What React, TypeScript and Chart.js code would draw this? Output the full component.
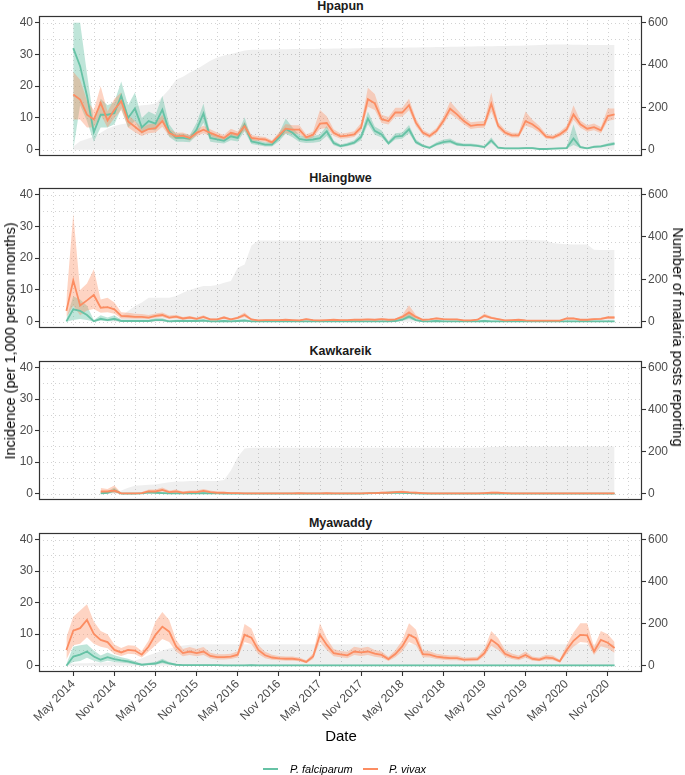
import React, { useEffect, useRef } from "react";
import { Chart, registerables } from "chart.js";

Chart.register(...registerables);

const FONT = "'Liberation Sans', Arial, Helvetica, sans-serif";
const _ = null;

// month index: 0 = Apr 2014 ... 80 = Dec 2020
const tickIdx = [1, 7, 13, 19, 25, 31, 37, 43, 49, 55, 61, 67, 73, 79];
const tickLabels = ["May 2014", "Nov 2014", "May 2015", "Nov 2015", "May 2016", "Nov 2016", "May 2017", "Nov 2017", "May 2018", "Nov 2018", "May 2019", "Nov 2019", "May 2020", "Nov 2020"];
const gridX = [-2, 1, 4, 7, 10, 13, 16, 19, 22, 25, 28, 31, 34, 37, 40, 43, 46, 49, 52, 55, 58, 61, 64, 67, 70, 73, 76, 79, 82];
const gridY = [0, 5, 10, 15, 20, 25, 30, 35, 40];
const yTicks = [0, 10, 20, 30, 40];
const y2Ticks = [0, 200, 400, 600];

// ---------- Hpapun ----------
const hpPosts = [_, 15, 40, 50, 62, 80, 100, 112, 120, 125,
  205, 210, 212, 218, 250, 285, 330, 345, 365, 380,
  400, 420, 435, 445, 452, 460, 468, 472, 472, 473,
  473, 474, 474, 475, 475, 476, 476, 477, 477, 478,
  478, 478, 479, 479, 480, 480, 481, 481, 482, 482,
  483, 483, 484, 484, 485, 485, 486, 486, 487, 487,
  488, 488, 489, 490, 490, 491, 491, 492, 493, 494,
  496, 497, 497, 497, 496, 496, 495, 495, 494, 494,
  494];
const hpPf = [_, 32, 26.3, 17, 5.5, 11, 11, 11.5, 17, 10,
  13, 7, 9, 8.2, 12.6, 5.8, 3.7, 3.7, 3.4, 6.3,
  11.4, 3.7, 3.2, 2.8, 4.2, 3.7, 7.9, 2.6, 2.1, 1.6,
  1.6, 3.7, 6.5, 5.3, 3.4, 3.0, 3.2, 3.6, 5.8, 2.1,
  1.1, 1.6, 2.2, 4.0, 9.8, 5.9, 4.8, 2.0, 4.1, 4.3,
  6.4, 2.4, 1.2, 0.6, 1.7, 2.4, 2.7, 1.7, 1.4, 1.4,
  1.2, 0.8, 2.9, 0.6, 0.4, 0.4, 0.4, 0.5, 0.5, 0.2,
  0.2, 0.3, 0.4, 0.5, 3.5, 0.8, 0.4, 0.9, 1.0, 1.5,
  1.9];
const hpPfLo = [_, 0, 14, 9, 2.5, 7, 7, 8, 13, 7,
  9, 5, 6.5, 6, 9, 4, 2.5, 2.5, 2.3, 4.5,
  8.5, 2.5, 2.2, 1.9, 3, 2.6, 5.8, 1.8, 1.4, 1.0,
  1.0, 2.6, 5, 3.9, 2.4, 2.1, 2.2, 2.5, 4.3, 1.4,
  0.7, 1.1, 1.6, 3.0, 8, 4.7, 3.8, 1.5, 3.2, 3.4,
  5.2, 1.8, 0.8, 0.3, 1.2, 1.8, 2.0, 1.2, 1.0, 1.0,
  0.8, 0.5, 2.1, 0.3, 0.2, 0.2, 0.2, 0.3, 0.3, 0.1,
  0.1, 0.1, 0.2, 0.3, 1.5, 0.5, 0.2, 0.6, 0.7, 1.1,
  1.4];
const hpPfHi = [_, 40, 40, 24, 9, 16, 14, 15, 21.5, 14,
  18, 10, 12, 11, 17, 8, 5, 5, 4.6, 8.5,
  14.5, 5, 4.4, 3.8, 5.6, 5, 10.2, 3.5, 2.9, 2.3,
  2.3, 5, 9.8, 7, 4.6, 4.0, 4.3, 4.8, 7.5, 2.9,
  1.6, 2.2, 3.0, 5.2, 12, 7.3, 6, 2.7, 5.2, 5.4,
  7.8, 3.2, 1.7, 1.0, 2.3, 3.2, 3.5, 2.3, 1.9, 1.9,
  1.7, 1.2, 3.9, 1.0, 0.7, 0.7, 0.7, 0.8, 0.8, 0.4,
  0.4, 0.5, 0.7, 0.8, 8, 1.2, 0.7, 1.3, 1.4, 2.0,
  2.5];
const hpPv = [_, 17.4, 15.8, 11, 9.5, 14.7, 9.2, 12.6, 15.3, 8.9,
  7.2, 5.5, 6.5, 6.8, 9.0, 5.3, 4.2, 4.4, 3.7, 5.3,
  6.3, 5.3, 4.4, 3.7, 5.3, 4.7, 7.4, 3.7, 3.4, 3.2,
  2.3, 4.4, 6.6, 6.3, 6.3, 3.9, 4.7, 8.2, 8.4, 5.3,
  4.2, 4.4, 4.8, 7.0, 15.9, 14.6, 9.6, 9.0, 11.7, 11.7,
  14.0, 8.5, 5.4, 4.3, 5.9, 9.0, 12.9, 11.1, 9.0, 7.5,
  7.8, 7.9, 14.5, 7.5, 5.4, 4.5, 4.5, 9.0, 8.0, 6.4,
  4.1, 3.8, 4.8, 6.4, 11.1, 8.0, 6.6, 7.1, 6.1, 10.6,
  11.1];
const hpPvLo = [_, 9.5, 9.5, 7, 7, 11, 7, 10, 12.5, 7,
  5.5, 4.3, 5.2, 5.4, 7.2, 4.2, 3.3, 3.5, 2.9, 4.3,
  5.2, 4.3, 3.5, 2.9, 4.3, 3.8, 6.1, 2.9, 2.7, 2.5,
  1.8, 3.5, 5.2, 5, 5, 3.1, 3.8, 6.5, 6.8, 4.3,
  3.4, 3.6, 4.0, 5.8, 13.5, 12.5, 8.4, 7.9, 10.4, 10.4,
  12.4, 7.4, 4.6, 3.6, 5.1, 7.9, 11.3, 9.7, 7.9, 6.5,
  6.8, 6.9, 12, 6.5, 4.6, 3.8, 3.8, 7.5, 6.8, 5.4,
  3.4, 3.2, 4.1, 5.4, 9.4, 6.9, 5.6, 6.1, 5.2, 9,
  9.5];
const hpPvHi = [_, 24.5, 22, 15.5, 12.5, 20, 12, 16, 18, 11,
  9, 6.9, 8, 8.3, 11, 6.5, 5.3, 5.4, 4.6, 6.4,
  7.5, 6.4, 5.4, 4.6, 6.6, 5.7, 8.8, 4.6, 4.2, 4.0,
  3.0, 5.4, 8.1, 7.7, 7.7, 4.8, 5.7, 12.5, 10.5, 6.4,
  5.1, 5.3, 5.8, 8.4, 19.5, 17.5, 11, 10.3, 13.2, 13.2,
  16, 9.8, 6.3, 5.1, 6.8, 10.3, 15.2, 12.7, 10.3, 8.6,
  8.9, 9.0, 18, 8.7, 6.3, 5.3, 5.3, 12, 9.4, 7.5,
  4.9, 4.5, 5.6, 7.5, 14, 9.2, 7.7, 8.2, 7.1, 13,
  13];

// ---------- Hlaingbwe ----------
const hlPosts = [0, 0, 0, 0, 0, 0, 0, 5, 27, 50,
  74, 90, 113, 113, 113, 113, 121, 137, 149, 160,
  168, 168, 173, 184, 192, 255, 270, 360, 383, 383,
  383, 383, 383, 383, 383, 383, 383, 383, 383, 383,
  383, 383, 383, 383, 383, 383, 383, 383, 383, 383,
  383, 383, 383, 383, 383, 383, 383, 383, 383, 383,
  383, 383, 383, 383, 384, 385, 386, 387, 386, 385,
  383, 372, 368, 366, 365, 365, 364, 340, 338, 338,
  338];
const hlPf = [0.1, 3.9, 3.4, 2.1, 0.1, 0.9, 0.5, 0.9, 0.2, 0.2,
  0.2, 0.2, 0.2, 0.5, 0.5, 0.1, 0.2, 0.2, 0.2, 0.2,
  0.3, 0.1, 0.1, 0.2, 0.1, 0.2, 0.3, 0.1, 0.1, 0.1,
  0.1, 0.1, 0.1, 0.1, 0.1, 0.1, 0.1, 0.1, 0.1, 0.1,
  0.1, 0.1, 0.1, 0.1, 0.1, 0.1, 0.1, 0.1, 0.2, 0.6,
  1.6, 0.5, 0.1, 0.1, 0.2, 0.1, 0.1, 0.1, 0.1, 0.1,
  0.1, 0.2, 0.1, 0.1, 0.1, 0.1, 0.1, 0.1, 0.1, 0.1,
  0.1, 0.1, 0.1, 0.1, 0.1, 0.1, 0.1, 0.1, 0.1, 0.1,
  0.1];
const hlPfLo = [0, 0.5, 0.8, 0.5, 0, 0.3, 0.1, 0.3, 0, 0,
  0, 0, 0, 0.2, 0.2, 0, 0, 0, 0, 0,
  0.1, 0, 0, 0, 0, 0, 0.1, 0, 0, 0,
  0, 0, 0, 0, 0, 0, 0, 0, 0, 0,
  0, 0, 0, 0, 0, 0, 0, 0, 0, 0.3,
  0.8, 0.2, 0, 0, 0, 0, 0, 0, 0, 0,
  0, 0, 0, 0, 0, 0, 0, 0, 0, 0,
  0, 0, 0, 0, 0, 0, 0, 0, 0, 0,
  0];
const hlPfHi = [1, 8, 7, 5, 0.5, 2, 1.3, 2, 0.6, 0.6,
  0.6, 0.6, 0.6, 1.1, 1.1, 0.4, 0.6, 0.6, 0.6, 0.6,
  0.8, 0.4, 0.4, 0.6, 0.4, 0.6, 0.8, 0.4, 0.3, 0.3,
  0.3, 0.3, 0.3, 0.3, 0.3, 0.3, 0.3, 0.3, 0.3, 0.3,
  0.3, 0.3, 0.3, 0.3, 0.3, 0.3, 0.3, 0.3, 0.6, 1.2,
  2.8, 1.1, 0.3, 0.3, 0.6, 0.3, 0.3, 0.3, 0.3, 0.3,
  0.3, 0.6, 0.3, 0.3, 0.3, 0.3, 0.3, 0.3, 0.3, 0.3,
  0.3, 0.3, 0.3, 0.3, 0.3, 0.3, 0.3, 0.3, 0.3, 0.3,
  0.3];
const hlPv = [3.4, 13, 5.1, 6.7, 8.4, 4.4, 4.6, 3.9, 1.8, 1.7,
  1.5, 1.5, 1.3, 1.8, 2.1, 1.3, 1.6, 1.0, 1.3, 0.9,
  1.5, 0.7, 0.7, 1.3, 0.7, 1.2, 2.1, 0.7, 0.4, 0.5,
  0.5, 0.5, 0.6, 0.5, 0.4, 0.8, 0.5, 0.4, 0.5, 0.6,
  0.5, 0.5, 0.6, 0.6, 0.7, 0.6, 0.8, 0.6, 0.7, 1.5,
  2.9, 1.5, 0.6, 0.7, 1.0, 0.8, 0.7, 0.7, 0.4, 0.4,
  0.6, 1.9, 1.2, 0.8, 0.4, 0.5, 0.6, 0.4, 0.3, 0.3,
  0.3, 0.3, 0.3, 1.0, 1.0, 0.6, 0.6, 0.8, 0.9, 1.3,
  1.3];
const hlPvLo = [1.5, 5, 2, 3.5, 4, 2.8, 3, 2.5, 1.0, 1.0,
  0.9, 0.9, 0.8, 1.2, 1.5, 0.8, 1.1, 0.6, 0.9, 0.6,
  1.0, 0.4, 0.4, 0.9, 0.4, 0.8, 1.5, 0.4, 0.2, 0.3,
  0.3, 0.3, 0.4, 0.3, 0.2, 0.5, 0.3, 0.2, 0.3, 0.4,
  0.3, 0.3, 0.4, 0.4, 0.5, 0.4, 0.5, 0.4, 0.5, 1.0,
  1.6, 1.0, 0.4, 0.5, 0.7, 0.5, 0.5, 0.5, 0.2, 0.2,
  0.4, 1.3, 0.8, 0.5, 0.2, 0.3, 0.4, 0.2, 0.2, 0.2,
  0.2, 0.2, 0.2, 0.7, 0.7, 0.4, 0.4, 0.5, 0.6, 0.9,
  0.9];
const hlPvHi = [7, 34, 10, 12, 16.5, 7, 7.5, 6, 3.0, 2.8,
  2.5, 2.4, 2.1, 2.6, 2.9, 1.9, 2.2, 1.5, 1.8, 1.3,
  2.0, 1.0, 1.0, 1.8, 1.0, 1.6, 2.9, 1.0, 0.6, 0.7,
  0.7, 0.7, 0.8, 0.7, 0.6, 1.1, 0.7, 0.6, 0.7, 0.8,
  0.7, 0.7, 0.8, 0.8, 0.9, 0.8, 1.1, 0.8, 0.9, 2.1,
  5.2, 2.1, 0.8, 0.9, 1.4, 1.1, 0.9, 0.9, 0.6, 0.6,
  0.8, 2.6, 1.6, 1.1, 0.6, 0.7, 0.8, 0.6, 0.4, 0.4,
  0.4, 0.4, 0.4, 1.3, 1.3, 0.8, 0.8, 1.1, 1.2, 1.7,
  1.7];

// ---------- Kawkareik ----------
const kkPosts = [_, _, _, _, _, 5, 6, 8, 15, 28,
  38, 40, 42, 44, 50, 55, 58, 58, 60, 60,
  60, 60, 61, 65, 110, 175, 215, 219, 219, 219,
  219, 219, 219, 219, 219, 219, 219, 219, 219, 219,
  219, 219, 219, 219, 219, 219, 219, 219, 219, 219,
  219, 219, 219, 219, 219, 219, 219, 219, 219, 219,
  219, 220, 222, 224, 225, 225, 225, 225, 225, 225,
  225, 225, 225, 225, 225, 225, 225, 225, 225, 225,
  225];
const kkPf = [_, _, _, _, _, 0.1, 0.3, 1.1, 0, 0,
  0, 0.1, 0.4, 0.3, 0.2, 0.1, 0.1, 0.1, 0.1, 0.1,
  0.2, 0.1, 0.1, 0.05, 0.05, 0.05, 0.05, 0.05, 0.05, 0.05,
  0.05, 0.05, 0.05, 0.05, 0.05, 0.05, 0.05, 0.05, 0.05, 0.05,
  0.05, 0.05, 0.05, 0.05, 0.1, 0.2, 0.2, 0.3, 0.3, 0.3,
  0.2, 0.1, 0.05, 0.05, 0.05, 0.05, 0.05, 0.05, 0.05, 0.05,
  0.05, 0.05, 0.05, 0.05, 0.05, 0.05, 0.05, 0.05, 0.05, 0.05,
  0.05, 0.05, 0.05, 0.05, 0.05, 0.05, 0.05, 0.05, 0.05, 0.05,
  0.05];
const kkPfLo = [_, _, _, _, _, 0, 0, 0.4, 0, 0,
  0, 0, 0.1, 0.1, 0, 0, 0, 0, 0, 0,
  0, 0, 0, 0, 0, 0, 0, 0, 0, 0,
  0, 0, 0, 0, 0, 0, 0, 0, 0, 0,
  0, 0, 0, 0, 0, 0.1, 0.1, 0.1, 0.1, 0.1,
  0.1, 0, 0, 0, 0, 0, 0, 0, 0, 0,
  0, 0, 0, 0, 0, 0, 0, 0, 0, 0,
  0, 0, 0, 0, 0, 0, 0, 0, 0, 0,
  0];
const kkPfHi = [_, _, _, _, _, 0.5, 0.8, 2.0, 0.2, 0.2,
  0.2, 0.2, 0.9, 0.7, 0.5, 0.3, 0.3, 0.3, 0.3, 0.3,
  0.5, 0.2, 0.2, 0.2, 0.2, 0.2, 0.2, 0.2, 0.2, 0.2,
  0.2, 0.2, 0.2, 0.2, 0.2, 0.2, 0.2, 0.2, 0.2, 0.2,
  0.2, 0.2, 0.2, 0.2, 0.3, 0.5, 0.5, 0.6, 0.6, 0.6,
  0.5, 0.3, 0.2, 0.2, 0.2, 0.2, 0.2, 0.2, 0.2, 0.2,
  0.2, 0.2, 0.2, 0.2, 0.2, 0.2, 0.2, 0.2, 0.2, 0.2,
  0.2, 0.2, 0.2, 0.2, 0.2, 0.2, 0.2, 0.2, 0.2, 0.2,
  0.2];
const kkPv = [_, _, _, _, _, 0.7, 0.7, 1.0, 0.1, 0.1,
  0.1, 0.2, 0.7, 0.7, 1.2, 0.5, 0.7, 0.3, 0.5, 0.5,
  0.9, 0.5, 0.3, 0.3, 0.2, 0.2, 0.1, 0.1, 0.1, 0.1,
  0.1, 0.1, 0.1, 0.1, 0.2, 0.1, 0.1, 0.1, 0.2, 0.1,
  0.1, 0.1, 0.1, 0.1, 0.2, 0.2, 0.3, 0.3, 0.5, 0.6,
  0.4, 0.3, 0.2, 0.1, 0.1, 0.1, 0.1, 0.1, 0.1, 0.1,
  0.1, 0.2, 0.3, 0.3, 0.2, 0.1, 0.1, 0.1, 0.1, 0.1,
  0.1, 0.1, 0.1, 0.1, 0.1, 0.1, 0.1, 0.1, 0.1, 0.1,
  0.1];
const kkPvLo = [_, _, _, _, _, 0.2, 0.2, 0.3, 0, 0,
  0, 0, 0.3, 0.3, 0.7, 0.2, 0.3, 0.1, 0.2, 0.2,
  0.5, 0.2, 0.1, 0.1, 0.1, 0.1, 0, 0, 0, 0,
  0, 0, 0, 0, 0, 0, 0, 0, 0, 0,
  0, 0, 0, 0, 0.1, 0.1, 0.1, 0.1, 0.3, 0.3,
  0.2, 0.1, 0, 0, 0, 0, 0, 0, 0, 0,
  0, 0.1, 0.1, 0.1, 0.1, 0, 0, 0, 0, 0,
  0, 0, 0, 0, 0, 0, 0, 0, 0, 0,
  0];
const kkPvHi = [_, _, _, _, _, 1.8, 1.5, 2.6, 0.3, 0.3,
  0.3, 0.5, 1.3, 1.3, 2.0, 1.0, 1.3, 0.7, 1.0, 1.0,
  1.5, 1.0, 0.6, 0.6, 0.4, 0.4, 0.3, 0.3, 0.3, 0.3,
  0.3, 0.3, 0.3, 0.3, 0.4, 0.3, 0.3, 0.3, 0.4, 0.3,
  0.3, 0.3, 0.3, 0.3, 0.4, 0.4, 0.6, 0.6, 0.8, 1.0,
  0.7, 0.6, 0.4, 0.3, 0.3, 0.3, 0.3, 0.3, 0.3, 0.3,
  0.3, 0.4, 0.6, 0.6, 0.4, 0.3, 0.3, 0.3, 0.3, 0.3,
  0.3, 0.3, 0.3, 0.3, 0.3, 0.3, 0.3, 0.3, 0.3, 0.3,
  0.3];

// ---------- Myawaddy ----------
const mwPosts = [8, 10, 12, 12, 14, 15, 16, 18, 20, 22,
  25, 35, 50, 60, 72, 82, 90, 96, 100, 102,
  102, 102, 102, 102, 102, 102, 102, 102, 102, 102,
  102, 102, 102, 102, 102, 102, 102, 102, 102, 102,
  102, 102, 102, 102, 102, 102, 102, 102, 102, 102,
  102, 102, 102, 102, 102, 102, 102, 102, 102, 102,
  102, 102, 102, 102, 102, 102, 102, 102, 102, 102,
  102, 102, 102, 102, 102, 102, 102, 102, 102, 102,
  102];
const mwPf = [0, 2.9, 3.5, 4.5, 2.9, 1.9, 2.7, 2.1, 1.7, 1.4,
  0.8, 0.3, 0.5, 0.7, 1.4, 0.7, 0.3, 0.2, 0.2, 0.2,
  0.2, 0.2, 0.2, 0.1, 0.1, 0.1, 0.1, 0.2, 0.1, 0.1,
  0.1, 0.1, 0.1, 0.1, 0.1, 0.1, 0.1, 0.1, 0.1, 0.1,
  0.1, 0.1, 0.1, 0.1, 0.1, 0.1, 0.1, 0.1, 0.1, 0.1,
  0.1, 0.1, 0.1, 0.1, 0.1, 0.1, 0.1, 0.1, 0.1, 0.1,
  0.1, 0.1, 0.1, 0.1, 0.1, 0.1, 0.1, 0.1, 0.1, 0.1,
  0.1, 0.1, 0.1, 0.1, 0.1, 0.1, 0.1, 0.1, 0.1, 0.1,
  0.1];
const mwPfLo = [0, 1.2, 1.5, 2.5, 1.6, 1.0, 1.6, 1.2, 1.0, 0.8,
  0.4, 0.1, 0.2, 0.3, 0.8, 0.3, 0.1, 0.05, 0.05, 0.05,
  0.05, 0.05, 0.05, 0.05, 0.05, 0.05, 0.05, 0.05, 0.05, 0.05,
  0.05, 0.05, 0.05, 0.05, 0.05, 0.05, 0.05, 0.05, 0.05, 0.05,
  0.05, 0.05, 0.05, 0.05, 0.05, 0.05, 0.05, 0.05, 0.05, 0.05,
  0.05, 0.05, 0.05, 0.05, 0.05, 0.05, 0.05, 0.05, 0.05, 0.05,
  0.05, 0.05, 0.05, 0.05, 0.05, 0.05, 0.05, 0.05, 0.05, 0.05,
  0.05, 0.05, 0.05, 0.05, 0.05, 0.05, 0.05, 0.05, 0.05, 0.05,
  0.05];
const mwPfHi = [0.5, 6, 6.5, 6.8, 4.8, 3.2, 4.2, 3.3, 2.7, 2.2,
  1.4, 0.6, 0.9, 1.2, 2.2, 1.2, 0.6, 0.4, 0.4, 0.4,
  0.4, 0.4, 0.4, 0.3, 0.3, 0.3, 0.3, 0.4, 0.3, 0.3,
  0.3, 0.3, 0.3, 0.3, 0.3, 0.3, 0.3, 0.3, 0.3, 0.3,
  0.3, 0.3, 0.3, 0.3, 0.3, 0.3, 0.3, 0.3, 0.3, 0.3,
  0.3, 0.3, 0.3, 0.3, 0.3, 0.3, 0.3, 0.3, 0.3, 0.3,
  0.3, 0.3, 0.3, 0.3, 0.3, 0.3, 0.3, 0.3, 0.3, 0.3,
  0.3, 0.3, 0.3, 0.3, 0.3, 0.3, 0.3, 0.3, 0.3, 0.3,
  0.3];
const mwPv = [5.0, 11.1, 11.9, 14.5, 10.1, 8.2, 7.5, 5.0, 4.2, 5.0,
  4.8, 3.5, 6.1, 9.8, 12.4, 10.8, 6.1, 4.0, 4.5, 4.0,
  4.5, 3.1, 2.7, 2.7, 2.9, 3.5, 9.8, 8.9, 5.0, 3.3,
  2.6, 2.3, 2.2, 2.2, 1.9, 1.2, 2.9, 9.8, 6.6, 4.0,
  3.6, 3.3, 4.5, 4.2, 4.5, 3.8, 3.4, 2.1, 3.7, 6.1,
  9.8, 8.7, 3.7, 3.5, 2.9, 2.6, 2.4, 2.4, 1.9, 2.0,
  2.1, 4.0, 8.2, 6.6, 3.8, 2.9, 2.4, 3.4, 2.2, 1.9,
  2.6, 2.4, 1.4, 5.0, 7.9, 9.8, 9.6, 4.5, 8.2, 7.3,
  5.6];
const mwPvLo = [2, 6.5, 7, 9, 7, 6, 5.5, 3.7, 3.1, 3.8,
  3.6, 2.6, 4.5, 6.5, 8.5, 7.5, 4.5, 3.0, 3.4, 3.0,
  3.4, 2.3, 2.0, 2.0, 2.1, 2.6, 7.5, 6.8, 3.7, 2.4,
  1.9, 1.7, 1.6, 1.6, 1.4, 0.8, 2.1, 7.5, 5, 3.0,
  2.7, 2.4, 3.4, 3.1, 3.4, 2.8, 2.5, 1.5, 2.7, 4.5,
  7.5, 6.5, 2.7, 2.6, 2.1, 1.9, 1.7, 1.7, 1.4, 1.4,
  1.5, 3.0, 6.3, 5, 2.8, 2.1, 1.7, 2.5, 1.6, 1.4,
  1.9, 1.7, 1.0, 3.7, 6, 7.5, 7.3, 3.4, 6.2, 5.5,
  4.0];
const mwPvHi = [9, 15.5, 17.5, 19.5, 14, 11, 10, 6.7, 5.6, 6.5,
  6.3, 4.7, 8.0, 14, 17, 14.5, 8.2, 5.3, 5.9, 5.3,
  5.9, 4.1, 3.6, 3.6, 3.8, 4.6, 13.2, 11.8, 6.6, 4.4,
  3.5, 3.1, 2.9, 2.9, 2.6, 1.7, 3.9, 13.5, 8.7, 5.3,
  4.7, 4.4, 6, 5.6, 6.0, 5.0, 4.5, 2.8, 4.9, 8.0,
  13.5, 11.5, 4.9, 4.6, 3.8, 3.5, 3.2, 3.2, 2.6, 2.7,
  2.8, 5.3, 11, 8.8, 5.0, 3.9, 3.2, 4.5, 2.9, 2.6,
  3.5, 3.2, 1.9, 6.6, 10.5, 13.5, 13.5, 6.0, 11, 10,
  7.5];

const panels = [
  { name: "Hpapun", top: 16, h: 140, posts: hpPosts, pf: hpPf, pfLo: hpPfLo, pfHi: hpPfHi, pv: hpPv, pvLo: hpPvLo, pvHi: hpPvHi },
  { name: "Hlaingbwe", top: 188, h: 140, posts: hlPosts, pf: hlPf, pfLo: hlPfLo, pfHi: hlPfHi, pv: hlPv, pvLo: hlPvLo, pvHi: hlPvHi },
  { name: "Kawkareik", top: 361, h: 139, posts: kkPosts, pf: kkPf, pfLo: kkPfLo, pfHi: kkPfHi, pv: kkPv, pvLo: kkPvLo, pvHi: kkPvHi },
  { name: "Myawaddy", top: 533, h: 139, posts: mwPosts, pf: mwPf, pfLo: mwPfLo, pfHi: mwPfHi, pv: mwPv, pvLo: mwPvLo, pvHi: mwPvHi },
];

const GREEN = "#66c2a5";
const ORANGE = "#fc8d62";
const XAXIS_H = 58;

function Panel({ p, showX }: any) {
  const ref = useRef<HTMLCanvasElement | null>(null);
  const height = showX ? p.h + 2 + XAXIS_H : p.h + 4;

  useEffect(() => {
    const pts = (a: any[]) => a.map((v, i) => ({ x: i, y: v }));
    const hidden = { borderColor: "rgba(0,0,0,0)", borderWidth: 1, pointRadius: 0, tension: 0 };
    const framePlugin = {
      id: "frameGrid",
      beforeDatasetsDraw(chart: any) {
        const { ctx, chartArea: ca, scales } = chart;
        ctx.save();
        ctx.beginPath();
        ctx.rect(ca.left, ca.top, ca.right - ca.left, ca.bottom - ca.top);
        ctx.clip();
        ctx.strokeStyle = "#d2d2d2";
        ctx.lineWidth = 1;
        ctx.setLineDash([1, 3]);
        gridX.forEach((v) => {
          const x = Math.round(scales.x.getPixelForValue(v)) + 0.5;
          ctx.beginPath();
          ctx.moveTo(x, ca.top);
          ctx.lineTo(x, ca.bottom);
          ctx.stroke();
        });
        gridY.forEach((v) => {
          const y = Math.round(scales.y.getPixelForValue(v)) + 0.5;
          ctx.beginPath();
          ctx.moveTo(ca.left, y);
          ctx.lineTo(ca.right, y);
          ctx.stroke();
        });
        ctx.restore();
      },
      afterDatasetsDraw(chart: any) {
        const { ctx, chartArea: ca } = chart;
        ctx.save();
        ctx.strokeStyle = "#333333";
        ctx.lineWidth = 1.2;
        ctx.strokeRect(ca.left + 0.5, ca.top + 0.5, ca.right - ca.left - 1, ca.bottom - ca.top - 1);
        ctx.restore();
      },
    };
    const tickFont = { family: FONT, size: 12 };
    const chart = new Chart(ref.current as HTMLCanvasElement, {
      type: "line",
      data: {
        datasets: [
          { label: "posts", data: pts(p.posts), yAxisID: "y2", ...hidden, fill: "origin", backgroundColor: "rgba(0,0,0,0.063)", order: 10 },
          { label: "pfLo", data: pts(p.pfLo), yAxisID: "y", ...hidden, fill: false, order: 9 },
          { label: "pfHi", data: pts(p.pfHi), yAxisID: "y", ...hidden, fill: "-1", backgroundColor: "rgba(102,194,165,0.42)", order: 8 },
          { label: "pvLo", data: pts(p.pvLo), yAxisID: "y", ...hidden, fill: false, order: 7 },
          { label: "pvHi", data: pts(p.pvHi), yAxisID: "y", ...hidden, fill: "-1", backgroundColor: "rgba(252,141,98,0.38)", order: 6 },
          { label: "P. falciparum", data: pts(p.pf), yAxisID: "y", borderColor: GREEN, borderWidth: 1.8, pointRadius: 0, tension: 0, fill: false, order: 4 },
          { label: "P. vivax", data: pts(p.pv), yAxisID: "y", borderColor: ORANGE, borderWidth: 1.8, pointRadius: 0, tension: 0, fill: false, order: 2 },
        ],
      },
      options: {
        responsive: false,
        animation: false,
        maintainAspectRatio: false,
        events: [],
        layout: { autoPadding: false, padding: { top: 2, bottom: showX ? 0 : 2, left: 0, right: 0 } },
        plugins: { legend: { display: false }, tooltip: { enabled: false } },
        scales: {
          x: {
            type: "linear",
            min: -4,
            max: 84,
            display: showX,
            afterBuildTicks: (a: any) => { a.ticks = tickIdx.map((v) => ({ value: v })); },
            afterFit: (s: any) => { s.height = showX ? XAXIS_H : 0; },
            ticks: {
              callback: (_v: any, i: number) => tickLabels[i],
              minRotation: 45,
              maxRotation: 45,
              autoSkip: false,
              font: tickFont,
              color: "#4d4d4d",
              padding: 1,
            },
            grid: { drawOnChartArea: false, drawTicks: true, tickLength: 4, tickColor: "#333333", tickWidth: 1.1 },
            border: { display: false },
          },
          y: {
            position: "left",
            min: -2,
            max: 42.1,
            afterBuildTicks: (a: any) => { a.ticks = yTicks.map((v) => ({ value: v })); },
            afterFit: (s: any) => { s.width = 39; s.paddingTop = 0; s.paddingBottom = 0; },
            ticks: { font: tickFont, color: "#4d4d4d", padding: 2 },
            grid: { drawOnChartArea: false, drawTicks: true, tickLength: 4, tickColor: "#333333", tickWidth: 1.1 },
            border: { display: false },
          },
          y2: {
            position: "right",
            min: -30,
            max: 631.5,
            afterBuildTicks: (a: any) => { a.ticks = y2Ticks.map((v) => ({ value: v })); },
            afterFit: (s: any) => { s.width = 43; s.paddingTop = 0; s.paddingBottom = 0; },
            ticks: { font: tickFont, color: "#4d4d4d", padding: 2 },
            grid: { drawOnChartArea: false, drawTicks: true, tickLength: 4, tickColor: "#333333", tickWidth: 1.1 },
            border: { display: false },
          },
        },
      },
      plugins: [framePlugin],
    } as any);
    return () => chart.destroy();
  }, []);

  return (
    <canvas
      ref={ref}
      width={685}
      height={height}
      style={{ position: "absolute", left: 0, top: p.top - 2, width: 685, height }}
    />
  );
}

export default function App() {
  const txt = { position: "absolute" as const, fontFamily: FONT, color: "#000", whiteSpace: "nowrap" as const };
  return (
    <div style={{ position: "absolute", left: 0, top: 0, width: 685, height: 775, background: "#fff", overflow: "hidden" }}>
      {panels.map((p, k) => (
        <React.Fragment key={p.name}>
          <div style={{ ...txt, left: 39, width: 603, top: p.top - 17, lineHeight: "14px", textAlign: "center", fontWeight: "bold", fontSize: 12.5, color: "#1a1a1a" }}>
            {p.name}
          </div>
          <Panel p={p} showX={k === panels.length - 1} />
        </React.Fragment>
      ))}
      <div style={{ ...txt, left: 10, top: 341, fontSize: 14.5, lineHeight: "18px", transform: "translate(-50%, -50%) rotate(-90deg)" }}>
        Incidence (per 1,000 person months)
      </div>
      <div style={{ ...txt, left: 678, top: 337, fontSize: 14.5, lineHeight: "18px", transform: "translate(-50%, -50%) rotate(90deg)" }}>
        Number of malaria posts reporting
      </div>
      <div style={{ ...txt, left: 341, top: 736, fontSize: 15, lineHeight: "18px", transform: "translate(-50%, -50%)" }}>
        Date
      </div>
      <div style={{ position: "absolute", left: 263, top: 768, width: 15, height: 2, background: GREEN }} />
      <div style={{ ...txt, left: 290, top: 762, fontSize: 11, lineHeight: "14px", fontStyle: "italic" }}>P. falciparum</div>
      <div style={{ position: "absolute", left: 363, top: 768, width: 15, height: 2, background: ORANGE }} />
      <div style={{ ...txt, left: 389, top: 762, fontSize: 11, lineHeight: "14px", fontStyle: "italic" }}>P. vivax</div>
    </div>
  );
}
